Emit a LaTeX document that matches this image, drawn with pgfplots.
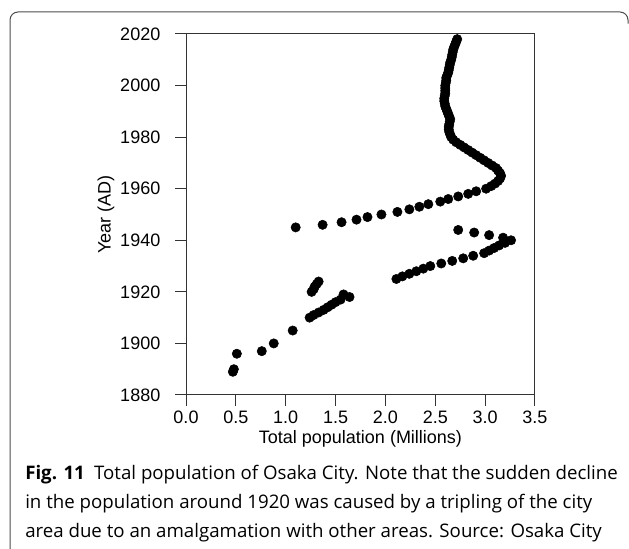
\documentclass[border=0pt]{standalone}
\usepackage{pgfplots}
\pgfplotsset{compat=1.18}
\usepackage{fontspec}
\setmainfont{Liberation Sans}
\newfontfamily\capfont{Open Sans}

\pgfplotstableread{
x y
0.47 1889
0.48 1890
0.51 1896
0.76 1897
0.88 1900
1.07 1905
1.24 1910
1.28 1911
1.33 1912
1.38 1913
1.42 1914
1.46 1915
1.50 1916
1.55 1917
1.64 1918
1.58 1919
1.26 1920
1.28 1921
1.29 1922
1.31 1923
1.33 1924
2.11 1925
2.17 1926
2.24 1927
2.31 1928
2.38 1929
2.45 1930
2.56 1931
2.67 1932
2.78 1933
2.88 1934
2.99 1935
3.04 1936
3.09 1937
3.14 1938
3.20 1939
3.26 1940
3.18 1941
3.04 1942
2.89 1943
2.73 1944
1.10 1945
1.37 1946
1.56 1947
1.71 1948
1.82 1949
1.96 1950
2.12 1951
2.24 1952
2.34 1953
2.43 1954
2.55 1955
2.63 1956
2.73 1957
2.83 1958
2.91 1959
3.01 1960
3.06 1961
3.10 1962
3.13 1963
3.15 1964
3.16 1965
3.15 1966
3.13 1967
3.11 1968
3.07 1969
3.03 1970
2.99 1971
2.95 1972
2.91 1973
2.87 1974
2.83 1975
2.79 1976
2.75 1977
2.71 1978
2.68 1979
2.66 1980
2.65 1981
2.64 1982
2.635 1983
2.635 1984
2.64 1985
2.645 1986
2.65 1987
2.64 1988
2.63 1989
2.62 1990
2.61 1991
2.60 1992
2.595 1993
2.59 1994
2.59 1995
2.595 1996
2.60 1997
2.60 1998
2.60 1999
2.60 2000
2.605 2001
2.61 2002
2.61 2003
2.62 2004
2.63 2005
2.635 2006
2.64 2007
2.645 2008
2.65 2009
2.66 2010
2.665 2011
2.67 2012
2.675 2013
2.68 2014
2.69 2015
2.70 2016
2.71 2017
2.72 2018
}\osaka

\begin{document}
\begin{tikzpicture}
\useasboundingbox (0,0) rectangle (471.75pt,411.75pt);
% frame
\draw[black!70, line width=0.75pt, rounded corners=6pt]
  (7.5pt,-2pt) -- (7.5pt,402.75pt) -- (471pt,402.75pt) -- (471pt,394pt);
\begin{axis}[
  at={(139.5pt,115.5pt)}, anchor=south west,
  scale only axis, width=261.75pt, height=270.75pt,
  xmin=0, xmax=3.5, ymin=1880, ymax=2020,
  xtick={0,0.5,...,3.5}, ytick={1880,1900,...,2020},
  tick pos=left, tick align=outside, major tick length=8.25pt,
  axis line style={black!80, line width=0.75pt},
  every tick/.style={black!80, line width=0.75pt},
  /pgf/number format/assume math mode=true,
  ticklabel style={font=\fontsize{13.5}{16}\selectfont},
  xticklabel style={/pgf/number format/.cd, fixed, fixed zerofill, precision=1},
  yticklabel style={xshift=-7.5pt, /pgf/number format/.cd, set thousands separator={}},
  xlabel={Total population (Millions)},
  ylabel={Year (AD)},
  label style={font=\fontsize{13.5}{16}\selectfont},
  xlabel style={at={(rel axis cs:0.5,0)}, anchor=base, yshift=-36.75pt},
  ylabel style={at={(rel axis cs:-0.229,0.5)}, anchor=center},
]
\addplot[only marks, mark=*, mark size=3.5pt, black] table[x=x,y=y] {\osaka};
\end{axis}
\begin{scope}[every node/.style={anchor=base west, inner sep=0pt, font=\capfont\fontsize{14}{16}\selectfont}]
\node at (18.75pt,51.75pt) {\textbf{Fig. 11}\hspace{0.5em}Total population of Osaka City. Note that the sudden decline};
\node at (18.75pt,30pt) {in the population around 1920 was caused by a tripling of the city};
\node at (18.75pt,8.25pt) {area due to an amalgamation with other areas. Source: Osaka City};
\end{scope}
\end{tikzpicture}
\end{document}
